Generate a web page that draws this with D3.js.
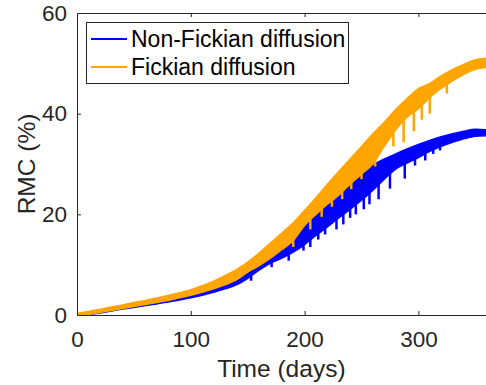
<!DOCTYPE html>
<html>
<head>
<meta charset="utf-8">
<script src="https://cdn.jsdelivr.net/npm/d3@7"></script>
<style>
  html, body { margin: 0; padding: 0; background: #fff; }
  svg { display: block; font-family: "Liberation Sans", Arial, Helvetica, sans-serif; }
</style>
</head>
<body>
<svg id="chart" width="486" height="385"></svg>
<script>
// Sampling days (envelope of the oscillating moisture-content curves)
const days = [0,10,20,30,40,50,60,70,80,90,100,110,120,130,140,150,160,170,180,
              190,200,210,220,230,240,250,260,270,280,290,300,310,320,330,340,350,360];

// Fickian diffusion: upper / lower envelope of RMC (%)
const fickUpper = [0.3,0.7,1.1,1.6,2.0,2.5,2.9,3.4,3.9,4.4,5.0,5.8,6.7,7.8,9.0,10.5,12.3,14.3,16.3,
                   18.3,20.8,23.3,26.0,28.5,31.0,33.5,36.0,38.3,40.8,43.0,45.0,46.0,47.5,48.8,49.8,50.7,51.0];
const fickLower = [0,0.1,0.5,0.9,1.3,1.7,2.1,2.5,2.9,3.4,3.9,4.5,5.2,6.0,7.0,8.5,9.8,11.3,13.0,
                   14.8,17.8,20.0,22.0,23.8,26.0,28.0,30.0,33.5,36.8,39.3,41.0,43.2,45.0,46.5,47.8,48.8,49.2];

// Non-Fickian diffusion: upper / lower envelope of RMC (%)
const nonFickUpper = [0.2,0.6,1.0,1.4,1.8,2.3,2.7,3.1,3.6,4.1,4.6,5.2,5.9,6.8,7.8,9.2,10.8,12.5,14.2,
                      16.0,18.0,20.3,23.0,24.8,26.3,28.3,29.8,31.0,32.0,33.0,33.9,34.7,35.4,36.0,36.5,36.9,36.8];
const nonFickLower = [0,0.1,0.4,0.8,1.2,1.5,1.9,2.2,2.6,3.0,3.4,3.9,4.5,5.2,6.0,7.3,8.9,10.3,11.3,
                      12.5,14.0,15.8,17.5,19.3,21.0,22.8,24.8,27.0,29.0,30.2,31.3,32.5,33.5,34.3,35.0,35.5,35.6];

// Short downward drops below each band
const fickDropDays = [190,205,215,224,233,241,250,262,278,287,296,303,310,325];
const fickDropLows = [13.5,17.0,19.5,21.5,23.0,25.0,27.0,29.5,33.5,34.3,36.5,38.8,40.0,44.0];
const nonFickDropDays = [153,171,186,199,205,212,218,228,234,240,245,252,257,265,275,288,297,306,313,319];
const nonFickDropLows = [6.8,9.5,10.8,12.8,13.5,15.0,16.0,17.0,18.0,19.3,20.0,21.0,22.0,23.0,25.1,27.1,29.7,30.7,32.0,32.7];

// Axis ticks and labels
const xTicks = [0,100,200,300];
const yTicks = [0,20,40,60];
const seriesNames = ["Non-Fickian diffusion", "Fickian diffusion"];
const seriesColors = ["#0000ff", "#ffa500"];

const svg = d3.select("#chart");
const plotLeft = 77, plotRight = 486.7, plotTop = 13, plotBottom = 315;

const x = d3.scaleLinear().domain([0, 360]).range([plotLeft, plotRight]);
const y = d3.scaleLinear().domain([0, 60]).range([plotBottom, plotTop]);

svg.append("defs").append("clipPath").attr("id", "plotClip")
  .append("rect").attr("x", plotLeft).attr("y", plotTop - 1)
  .attr("width", plotRight - plotLeft).attr("height", plotBottom - plotTop + 1);

const plot = svg.append("g").attr("clip-path", "url(#plotClip)");

function drawBand(upper, lower, dropDays, dropLows, color) {
  const rows = days.map((d, i) => ({ d, hi: upper[i], lo: lower[i] }));
  const area = d3.area()
    .x(r => x(r.d)).y0(r => y(r.lo)).y1(r => y(r.hi))
    .curve(d3.curveMonotoneX);
  plot.append("path").datum(rows)
    .attr("d", area)
    .attr("fill", color)
    .attr("stroke", color)
    .attr("stroke-width", 1.5)
    .attr("stroke-linejoin", "round");

  const lowAt = d3.scaleLinear().domain(days).range(lower);
  plot.append("g").selectAll("line")
    .data(dropDays.map((d, i) => ({ d, low: dropLows[i] })))
    .join("line")
    .attr("x1", r => x(r.d)).attr("x2", r => x(r.d))
    .attr("y1", r => y(lowAt(r.d) + 0.5)).attr("y2", r => y(r.low))
    .attr("stroke", color).attr("stroke-width", 2.5);
}

drawBand(nonFickUpper, nonFickLower, nonFickDropDays, nonFickDropLows, seriesColors[0]);
drawBand(fickUpper, fickLower, fickDropDays, fickDropLows, seriesColors[1]);

// Axes (box with inward ticks)
const axisColor = "#262626";
const tickFont = 22.5;

const xAxis = svg.append("g").attr("transform", `translate(0,${plotBottom})`)
  .call(d3.axisBottom(x).tickValues(xTicks).tickSizeInner(-4).tickSizeOuter(0).tickPadding(16));
const yAxis = svg.append("g").attr("transform", `translate(${plotLeft},0)`)
  .call(d3.axisLeft(y).tickValues(yTicks).tickSizeInner(-4).tickSizeOuter(0).tickPadding(10));
const xTop = svg.append("g").attr("transform", `translate(0,${plotTop})`)
  .call(d3.axisTop(x).tickValues(xTicks).tickSizeInner(-4).tickSizeOuter(0).tickFormat(""));

[xAxis, yAxis, xTop].forEach(g => {
  g.select(".domain").attr("stroke", axisColor).attr("stroke-width", 1);
  g.selectAll(".tick line").attr("stroke", axisColor).attr("stroke-width", 1);
  g.selectAll(".tick text").attr("fill", axisColor)
    .attr("font-size", tickFont).attr("font-family", "Liberation Sans, Arial, sans-serif");
});
xTop.selectAll(".tick").filter(d => d === 0).remove();
xAxis.selectAll(".tick line").filter(d => d === 0).remove();
yAxis.selectAll(".tick line").filter(d => d === 0 || d === 60).remove();

// Axis labels
svg.append("text")
  .attr("x", (plotLeft + plotRight) / 2 - 0.5).attr("y", 377)
  .attr("text-anchor", "middle").attr("fill", axisColor)
  .attr("font-size", 24.5)
  .text("Time (days)");
svg.append("text")
  .attr("transform", `translate(35,${(plotTop + plotBottom) / 2}) rotate(-90)`)
  .attr("text-anchor", "middle").attr("fill", axisColor)
  .attr("font-size", 24.5)
  .text("RMC (%)");

// Legend
const legend = svg.append("g");
legend.append("rect")
  .attr("x", 86.5).attr("y", 22.5).attr("width", 262).attr("height", 61)
  .attr("fill", "#fff").attr("stroke", axisColor).attr("stroke-width", 1);
seriesNames.forEach((name, i) => {
  const cy = 39 + i * 28;
  legend.append("line")
    .attr("x1", 91).attr("x2", 127).attr("y1", cy).attr("y2", cy)
    .attr("stroke", seriesColors[i]).attr("stroke-width", 2);
  legend.append("text")
    .attr("x", 131).attr("y", cy + 8)
    .attr("fill", "#000").attr("font-size", 23)
    .text(name);
});
</script>
</body>
</html>
